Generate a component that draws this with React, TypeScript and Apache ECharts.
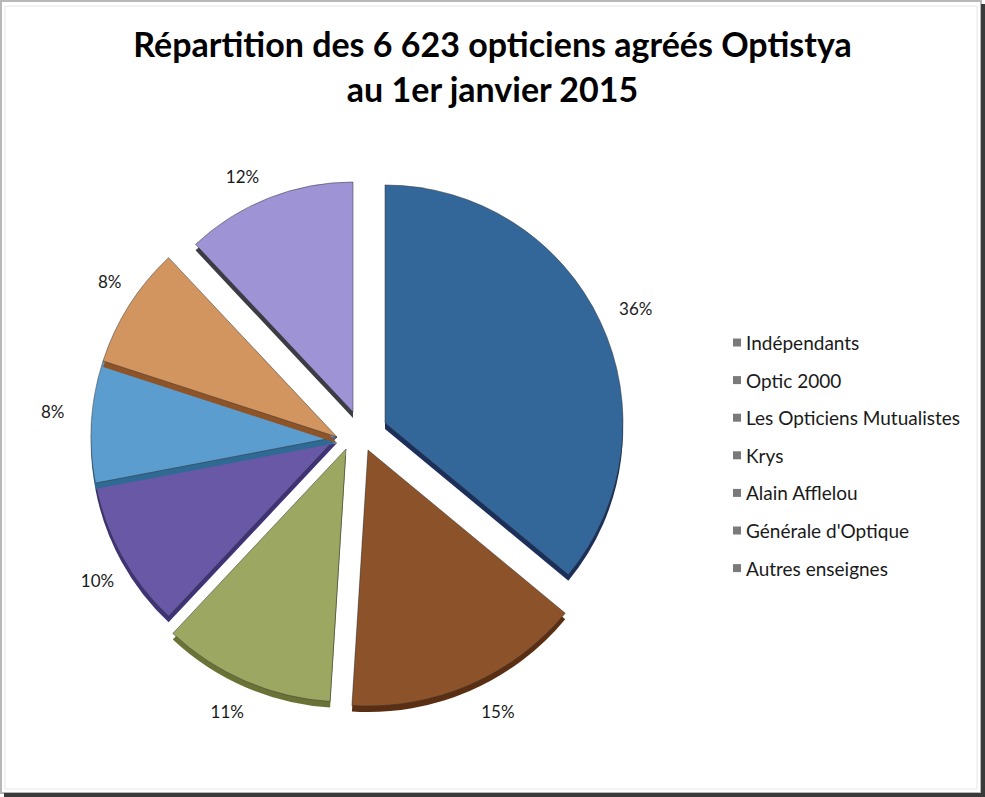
import React, { useEffect, useRef } from "react";
import * as echarts from "echarts";

const categories = [
  "Indépendants",
  "Optic 2000",
  "Les Opticiens Mutualistes",
  "Krys",
  "Alain Afflelou",
  "Générale d'Optique",
  "Autres enseignes",
];
const shares = [36, 15, 11, 10, 8, 8, 12];
const faceColors = ["#33679A", "#8C5229", "#9CA862", "#6858A6", "#5C9DD0", "#D3955F", "#9D93D5"];
const sideColors = ["#1B2F5A", "#5A2E12", "#6A7335", "#3F3275", "#2F6A95", "#8E5427", "#3C3C44"];
const titleLines = ["Répartition des 6 623 opticiens agréés Optistya", "au 1er janvier 2015"];

export default function App() {
  const ref = useRef<HTMLDivElement>(null);
  useEffect(() => {
    if (!ref.current) return;
    const chart = echarts.init(ref.current, null, { renderer: "svg" });

    // exploded-pie layout: tip of each slice, its radius, and a nudge of its label
    const explode = [
      { c: [385, 423], r: 238, d: [-2, -7] },
      { c: [368, 450], r: 256, d: [-2, 14] },
      { c: [346, 449], r: 253, d: [12, 17] },
      { c: [337, 437], r: 246, d: [13, 18] },
      { c: [337, 437], r: 246, d: [-5, -9] },
      { c: [337, 437], r: 246, d: [12, -16] },
      { c: [353, 412], r: 230, d: [4, -9] },
    ];
    const depth = 6;

    const hidden = {
      itemStyle: { color: "rgba(0,0,0,0)", borderWidth: 0 },
      label: { show: false },
      labelLine: { show: false },
    };

    const sliceSeries = (k: number, isSide: boolean) => ({
      type: "pie",
      center: [explode[k].c[0], explode[k].c[1] + (isSide ? depth : 0)],
      radius: explode[k].r,
      startAngle: 90,
      clockwise: true,
      avoidLabelOverlap: false,
      silent: true,
      emphasis: { disabled: true },
      z: 2,
      itemStyle: isSide
        ? { borderWidth: 0 }
        : { borderColor: "rgba(50,50,50,0.5)", borderWidth: 1 },
      label: {
        show: !isSide,
        position: "outside",
        formatter: (p: any) => p.value + "%",
        fontFamily: "Lato",
        fontSize: 17,
        color: "#1a1a1a",
      },
      labelLine: { show: false, length: 14, length2: 3 },
      labelLayout: { dx: explode[k].d[0], dy: explode[k].d[1] },
      data: categories.map((name, i) =>
        i === k
          ? { name, value: shares[i], itemStyle: { color: isSide ? sideColors[i] : faceColors[i] } }
          : { name, value: shares[i], ...hidden }
      ),
    });

    const series: any[] = [];
    categories.forEach((_, k) => {
      series.push(sliceSeries(k, true));
      series.push(sliceSeries(k, false));
    });

    chart.setOption({
      animation: false,
      backgroundColor: "#ffffff",
      title: {
        text: titleLines.join("\n"),
        left: "center",
        top: 16,
        textStyle: {
          fontFamily: "Lato",
          fontWeight: "bold",
          fontSize: 34,
          lineHeight: 45,
          color: "#000000",
        },
      },
      legend: {
        orient: "vertical",
        left: 728,
        top: 328,
        icon: "rect",
        itemWidth: 8,
        itemHeight: 8,
        itemGap: 18.6,
        selectedMode: false,
        data: categories,
        itemStyle: { color: "#7a7a7a" },
        textStyle: { fontFamily: "Lato", fontSize: 19, lineHeight: 19, color: "#1a1a1a" },
      },
      graphic: [
        { type: "rect", shape: { x: 1, y: 1, width: 980, height: 792 }, style: { fill: "none", stroke: "#b8b8b8", lineWidth: 2 }, silent: true },
        { type: "rect", shape: { x: 5, y: 6, width: 972, height: 783 }, style: { fill: "none", stroke: "#e6e6e6", lineWidth: 1 }, silent: true },
        { type: "line", shape: { x1: 983, y1: 4, x2: 983, y2: 797 }, style: { stroke: "#3a3a3a", lineWidth: 4 }, silent: true },
        { type: "line", shape: { x1: 4, y1: 795, x2: 985, y2: 795 }, style: { stroke: "#3a3a3a", lineWidth: 4 }, silent: true },
      ],
      series,
    });
    return () => chart.dispose();
  }, []);
  return (
    <div
      ref={ref}
      style={{ position: "absolute", left: 0, top: 0, width: 985, height: 797 }}
    />
  );
}
